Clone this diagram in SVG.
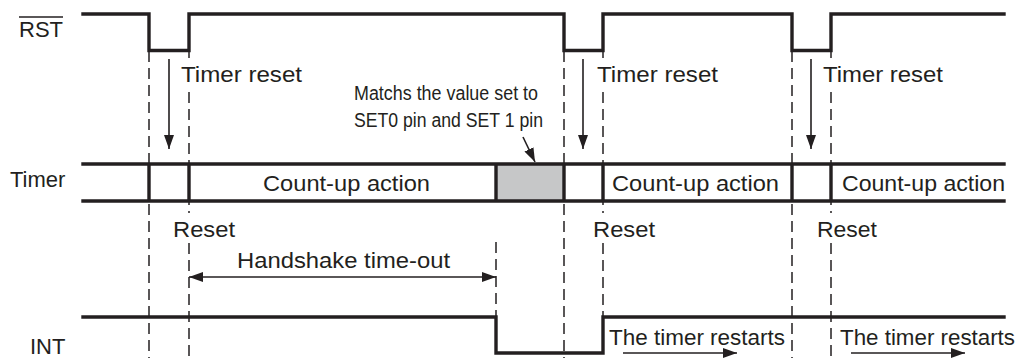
<svg xmlns="http://www.w3.org/2000/svg" width="1024" height="358" viewBox="0 0 1024 358">
<style>
text{font-family:"Liberation Sans",Arial,Helvetica,sans-serif;fill:#231f20;font-size:22px}
.sig{fill:none;stroke:#231f20;stroke-width:3.4;stroke-linejoin:miter;stroke-linecap:square}
.dash{fill:none;stroke:#231f20;stroke-width:1.5;stroke-dasharray:11 6}
.arr{fill:none;stroke:#231f20;stroke-width:1.6}
.cond{font-size:20px}
</style>
<defs>
<marker id="ah" viewBox="0 0 14 10" refX="14" refY="5" markerWidth="14" markerHeight="10" markerUnits="userSpaceOnUse" orient="auto-start-reverse">
<path d="M0,0 L14,5 L0,10 Z" fill="#231f20"/>
</marker>
</defs>
<rect width="1024" height="358" fill="#ffffff"/>

<g id="guides">
<line class="dash" x1="149" y1="51" x2="149" y2="358"/>
<line class="dash" x1="189" y1="51" x2="189" y2="58"/>
<line class="dash" x1="189" y1="92" x2="189" y2="213"/>
<line class="dash" x1="189" y1="243" x2="189" y2="358"/>
<line class="dash" x1="564" y1="51" x2="564" y2="358"/>
<line class="dash" x1="603" y1="51" x2="603" y2="58"/>
<line class="dash" x1="603" y1="92" x2="603" y2="213"/>
<line class="dash" x1="603" y1="243" x2="603" y2="316"/>
<line class="dash" x1="792" y1="51" x2="792" y2="358"/>
<line class="dash" x1="831" y1="51" x2="831" y2="58"/>
<line class="dash" x1="831" y1="92" x2="831" y2="213"/>
<line class="dash" x1="831" y1="243" x2="831" y2="358"/>
<line class="dash" x1="496" y1="242" x2="496" y2="316"/>
</g>

<g id="rst">
<text x="19" y="37">RST</text>
<line x1="19" y1="17" x2="63" y2="17" stroke="#231f20" stroke-width="1.5"/>
<path class="sig" d="M83,14 H149 V50.5 H189 V14 H564 V50.5 H603 V14 H792 V50.5 H831 V14 H1004"/>
</g>

<g id="timer">
<text x="10" y="187">Timer</text>
<rect x="496" y="164" width="68" height="37" fill="#c6c7c8"/>
<path class="sig" d="M83,164 H1004 M83,201 H1004 M149,164 V201 M189,164 V201 M496,164 V201 M564,164 V201 M603,164 V201 M792,164 V201 M831,164 V201"/>
<text x="263" y="191" textLength="167" lengthAdjust="spacingAndGlyphs">Count-up action</text>
<text x="612" y="191" textLength="167" lengthAdjust="spacingAndGlyphs">Count-up action</text>
<text x="842" y="191" textLength="163" lengthAdjust="spacingAndGlyphs">Count-up action</text>
</g>

<g id="int">
<text x="30" y="354">INT</text>
<path class="sig" d="M83,317 H496 V353 H603 V317 H1004"/>
</g>

<g id="labels">
<text x="181" y="82" textLength="121" lengthAdjust="spacingAndGlyphs">Timer reset</text>
<text x="597" y="82" textLength="121" lengthAdjust="spacingAndGlyphs">Timer reset</text>
<text x="823" y="82" textLength="120" lengthAdjust="spacingAndGlyphs">Timer reset</text>
<text class="cond" x="354" y="100" textLength="184" lengthAdjust="spacingAndGlyphs">Matchs the value set to</text>
<text class="cond" x="354" y="127" textLength="189" lengthAdjust="spacingAndGlyphs">SET0 pin and SET 1 pin</text>
<text x="173" y="237" textLength="62" lengthAdjust="spacingAndGlyphs">Reset</text>
<text x="593" y="237" textLength="62" lengthAdjust="spacingAndGlyphs">Reset</text>
<text x="817" y="237" textLength="60" lengthAdjust="spacingAndGlyphs">Reset</text>
<text x="237" y="268" textLength="213" lengthAdjust="spacingAndGlyphs">Handshake time-out</text>
<text x="609" y="345" textLength="176" lengthAdjust="spacingAndGlyphs">The timer restarts</text>
<text x="840" y="345" textLength="175" lengthAdjust="spacingAndGlyphs">The timer restarts</text>
</g>

<g id="connectors">
<line class="arr" x1="169" y1="59" x2="169" y2="149" marker-end="url(#ah)"/>
<line class="arr" x1="583" y1="59" x2="583" y2="149" marker-end="url(#ah)"/>
<line class="arr" x1="811" y1="59" x2="811" y2="149" marker-end="url(#ah)"/>
<line class="arr" x1="523" y1="137" x2="535" y2="162" marker-end="url(#ah)"/>
<line class="arr" x1="189" y1="277" x2="496" y2="277" marker-start="url(#ah)" marker-end="url(#ah)"/>
<line class="arr" x1="623" y1="353" x2="737" y2="353" marker-end="url(#ah)"/>
<line class="arr" x1="851" y1="353" x2="965" y2="353" marker-end="url(#ah)"/>
</g>
</svg>
